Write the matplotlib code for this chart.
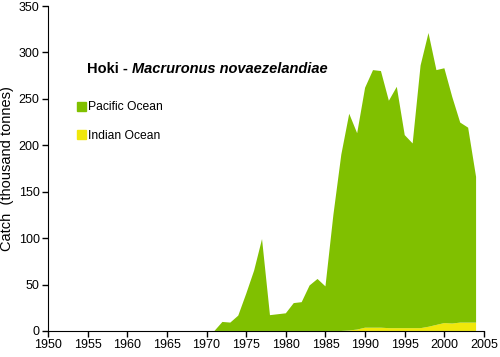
import numpy as np
import matplotlib.pyplot as plt
from matplotlib.patches import Patch

plt.rcParams['font.family'] = ['Liberation Sans', 'DejaVu Sans']

# catch data (thousand tonnes)
years = np.arange(1950, 2005)
indian = [0]*38 + [0.5, 1.5, 3.5, 3.5, 3.5, 3, 3, 3, 3, 3, 4.5, 6.5, 8.5, 8, 9, 9, 9]
pacific = ([0]*21 +
           [0, 9.7, 9, 16.5, 40, 65, 99, 17, 18, 19, 30, 31, 49, 56, 48, 125, 190,
            233.5, 211.5, 258.5, 277.5, 276.5, 245, 260, 208, 199, 283, 316.5,
            274.5, 274.5, 244, 215.5, 210, 157])

green = '#80c000'
yellow = '#f0e80a'

fig = plt.figure(figsize=(5.0, 3.57), dpi=100)
ax = fig.add_axes([0.096, 0.073, 0.872, 0.91])

ax.stackplot(years, indian, pacific, colors=[yellow, green], linewidth=0)

ax.set_xlim(1950, 2005)
ax.set_ylim(0, 350)
ax.set_xticks(np.arange(1950, 2006, 5))
ax.set_yticks(np.arange(0, 351, 50))
ax.spines['top'].set_visible(False)
ax.spines['right'].set_visible(False)
ax.tick_params(labelsize=9, direction='out', length=4, width=1, pad=2)
ax.set_ylabel('Catch  (thousand tonnes)', fontsize=10.5, labelpad=3)

t1 = ax.text(0.089, 0.805, 'Hoki - ', transform=ax.transAxes, fontsize=10.5,
             fontweight='bold', va='center')
ax.annotate('Macruronus novaezelandiae', xy=(1, 0.5), xycoords=t1,
            va='center', ha='left', fontsize=10.5, fontweight='bold', style='italic')

handles = [Patch(color=green), Patch(color=yellow)]
leg = ax.legend(handles, ['Pacific Ocean', 'Indian Ocean'], loc='upper left',
                bbox_to_anchor=(0.041, 0.74), frameon=False, handlelength=0.75,
                handleheight=0.75, handletextpad=0.2, labelspacing=1.35,
                prop={'size': 8.7})

fig.savefig('out.png', dpi=100)
